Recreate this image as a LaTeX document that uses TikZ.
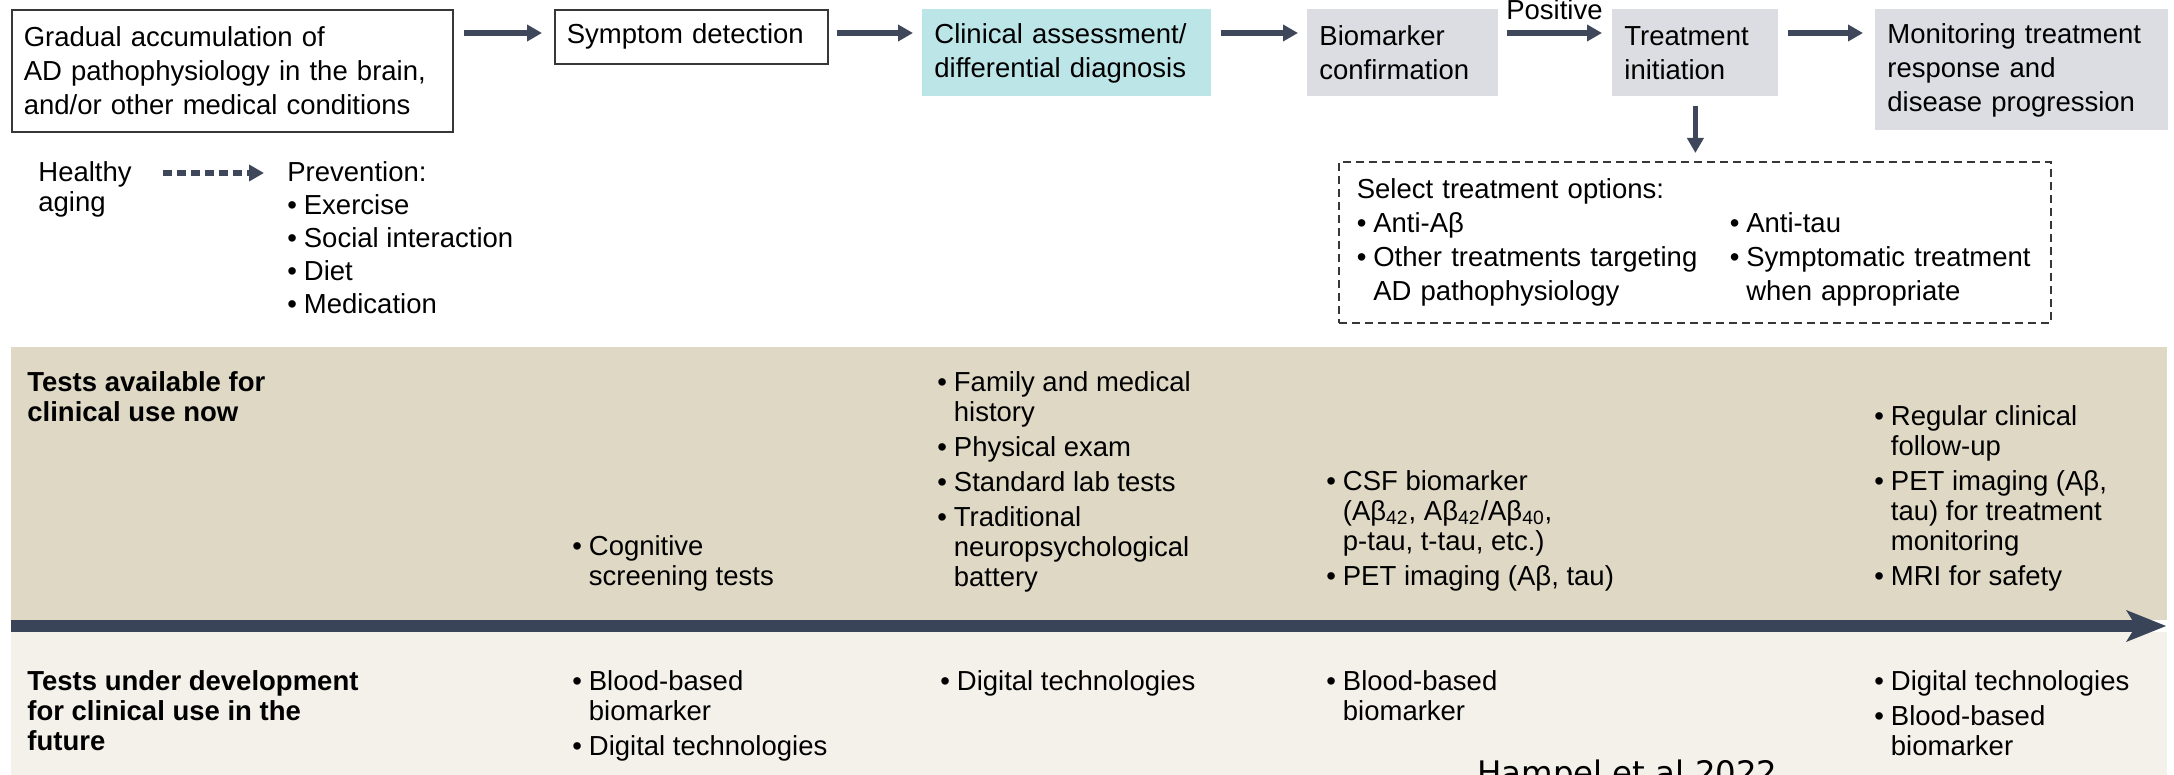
\documentclass[tikz,border=0pt]{standalone}
\usepackage{fontspec}
\setmainfont{Liberation Sans}
\newfontfamily\hampelfont{DejaVu Sans}
\usetikzlibrary{arrows.meta,calc}
\definecolor{arrowc}{RGB}{62,72,90}
\definecolor{barc}{RGB}{58,68,88}
\definecolor{beigec}{RGB}{222,216,196}
\definecolor{lowc}{RGB}{243,241,234}
\definecolor{cyanc}{RGB}{188,229,232}
\definecolor{grayc}{RGB}{220,221,226}
\definecolor{borderc}{RGB}{55,55,55}
\newcommand{\myboxfont}{\fontsize{13.75}{17}\selectfont}
\newcommand{\mylstfont}{\fontsize{13.75}{15}\selectfont}
\newcommand{\bl}{\textbullet\hspace{0.25em}}
\newcommand{\hg}{\hphantom{\textbullet}\hspace{0.25em}}
\tikzset{
  arr/.style={draw=arrowc, line width=2.6pt, -{Triangle[length=7.5pt,width=8pt]}},
  darr/.style={draw=arrowc, line width=2.6pt, dash pattern=on 4.5pt off 2.5pt, -{Triangle[length=7.5pt,width=8pt]}},
  topbox/.style={anchor=north west, inner xsep=6pt, inner ysep=0pt, align=left, font=\myboxfont, text=black},
  lst/.style={anchor=north west, inner sep=0pt, align=left, font=\mylstfont, text=black},
  optbox/.style={draw=borderc, line width=0.8pt, dash pattern=on 4pt off 2.5pt, anchor=north west,
    minimum height=80.5pt, inner xsep=9pt, inner ysep=0pt, text width=338pt, align=left, font=\myboxfont}
}
\begin{document}
\begin{tikzpicture}[x=0.5pt,y=-0.5pt]
\useasboundingbox (0,0) rectangle (2174,775);
\clip (0,0) rectangle (2174,775);

% bands
\fill[beigec] (11,347) rectangle (2167,620);
\fill[lowc] (11,632) rectangle (2167,775);
\fill[barc] (11,620) rectangle (2136,632);
\fill[barc] (2126,610) -- (2166,626) -- (2126,642) -- (2136,626) -- cycle;

% top row boxes
\node[topbox, draw=borderc, line width=0.8pt, text width=208.5pt, minimum height=61pt] (b1) at (11,9)
  {Gradual accumulation of\\AD pathophysiology in the brain,\\and/or other medical conditions};
\node[topbox, draw=borderc, line width=0.8pt, text width=124.5pt, minimum height=27pt] (b2) at (554,9)
  {Symptom detection};
\node[topbox, fill=cyanc, text width=132.5pt, minimum height=43.5pt] (b3) at (922,9)
  {Clinical assessment/\\differential diagnosis};
\node[topbox, fill=grayc, text width=83.5pt, minimum height=43.5pt] (b4) at (1307,9)
  {Biomarker\\confirmation};
\node[topbox, fill=grayc, text width=71pt, minimum height=43.5pt] (b5) at (1612,9)
  {Treatment\\initiation};
\node[topbox, fill=grayc, text width=134.5pt, minimum height=60.5pt] (b6) at (1875,9)
  {Monitoring treatment\\response and\\disease progression};

\draw[arr] ([xshift=5pt,yshift=-12pt]b1.north east) -- ([xshift=-6pt,yshift=-12pt]b2.north west);
\draw[arr] ([xshift=4pt,yshift=-12pt]b2.north east) -- ([xshift=-4.5pt,yshift=-12pt]b3.north west);
\draw[arr] ([xshift=4.5pt,yshift=-12pt]b3.north east) -- ([xshift=-4.5pt,yshift=-12pt]b4.north west);
\draw[arr] ([xshift=4pt,yshift=-12pt]b4.north east) -- node[above=5.5pt, inner sep=0pt, font=\mylstfont] (pos) {Positive} ([xshift=-5pt,yshift=-12pt]b5.north west);
\draw[arr] ([xshift=4.5pt,yshift=-12pt]b5.north east) -- ([xshift=-6pt,yshift=-12pt]b6.north west);

% treatment options
\node[optbox] (opts) at (1338,161) {%
\begin{tabular}{@{}p{186.5pt}@{}l@{}}
\multicolumn{2}{@{}l@{}}{Select treatment options:}\\
\bl Anti-Aβ & \bl Anti-tau\\
\bl Other treatments targeting & \bl Symptomatic treatment\\
\hg AD pathophysiology & \hg when appropriate
\end{tabular}};
\draw[arr] ([yshift=-4.5pt]b5.south) -- ($(b5.south |- opts.north)+(0,-8)$);

% healthy aging
\node[lst] (healthy) at (38,160) {\strut Healthy\\aging};
\node[lst] (prev) at (287,160) {\strut Prevention:\\[1.5pt]\bl Exercise\\[1.5pt]\bl Social interaction\\[1.5pt]\bl Diet\\[1.5pt]\bl Medication};
\draw[darr] ([xshift=15.5pt,yshift=-6.5pt]healthy.north east) -- ([xshift=-11.5pt,yshift=-6.5pt]prev.north west);

% tests available now
\node[lst, font=\mylstfont\bfseries] (tav) at (27,370) {\strut Tests available for\\clinical use now};
\node[lst] (cog) at (572,534) {\strut\bl Cognitive\\\hg screening tests};
\node[lst] (c3) at (937,370) {\strut\bl Family and medical\\\hg history\\[2.5pt]\bl Physical exam\\[2.5pt]\bl Standard lab tests\\[2.5pt]\bl Traditional\\\hg neuropsychological\\\hg battery};
\node[lst] (c4) at (1326,469) {\strut\bl CSF biomarker\\\hg (Aβ\textsubscript{42}, Aβ\textsubscript{42}/Aβ\textsubscript{40},\\\hg p-tau, t-tau, etc.)\\[2.5pt]\bl PET imaging (Aβ, tau)};
\node[lst] (c5) at (1874,404) {\strut\bl Regular clinical\\\hg follow-up\\[2.5pt]\bl PET imaging (Aβ,\\\hg tau) for treatment\\\hg monitoring\\[2.5pt]\bl MRI for safety};

% tests under development
\node[lst, font=\mylstfont\bfseries] (tud) at (27,669) {\strut Tests under development\\for clinical use in the\\future};
\node[lst] (d2) at (572,669) {\strut\bl Blood-based\\\hg biomarker\\[2.5pt]\bl Digital technologies};
\node[lst] (d3) at (940,669) {\strut\bl Digital technologies};
\node[lst] (d4) at (1326,669) {\strut\bl Blood-based\\\hg biomarker};
\node[lst] (d5) at (1874,669) {\strut\bl Digital technologies\\[2.5pt]\bl Blood-based\\\hg biomarker};

\node[anchor=base west, inner sep=0pt, font=\hampelfont\fontsize{16.2}{19}\selectfont] (cite) at (1477,784) {Hampel et al 2022};
\end{tikzpicture}
\end{document}
